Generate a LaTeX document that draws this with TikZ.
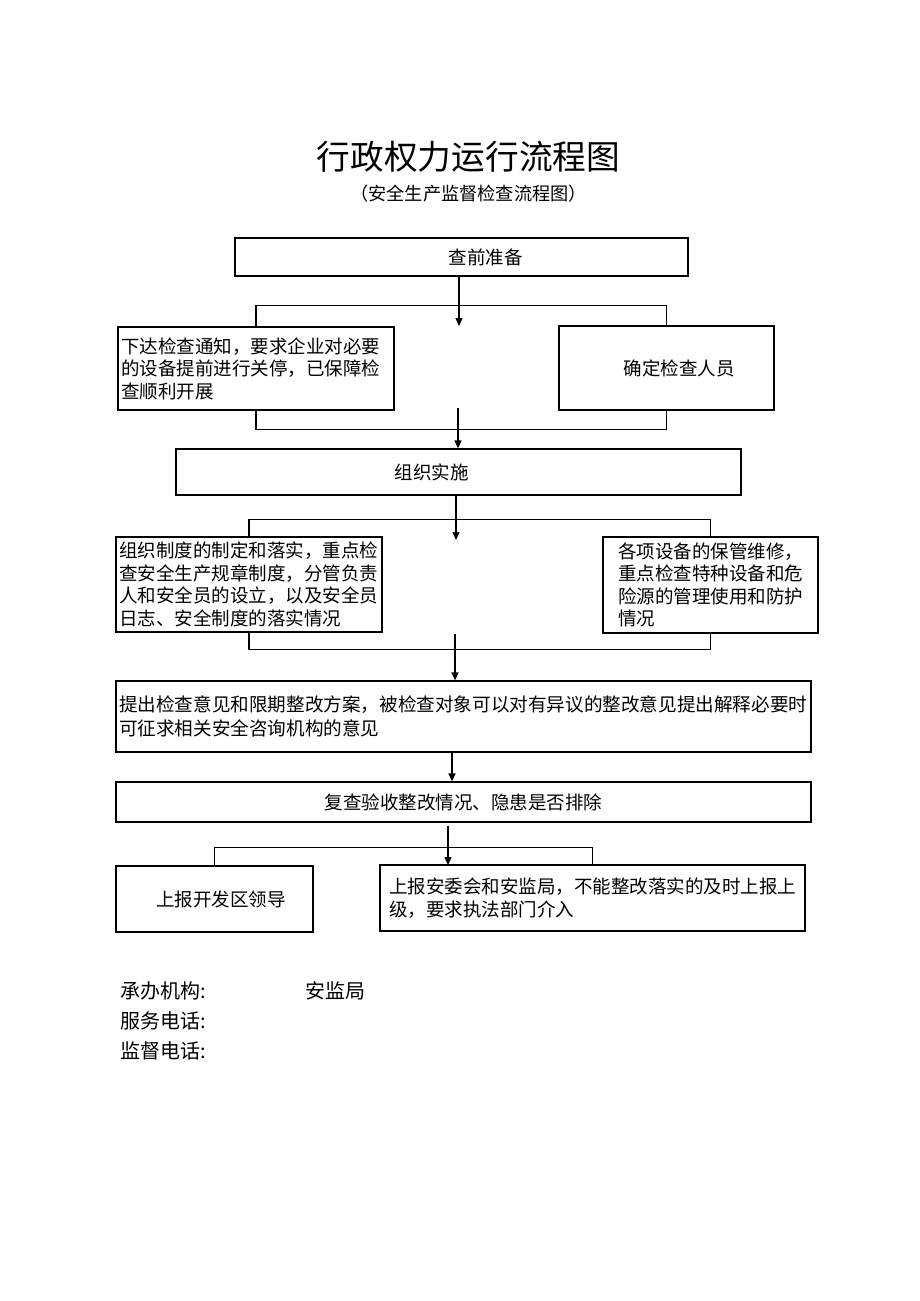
\documentclass[tikz,border=0pt]{standalone}
\usepackage{fontspec}
\setmainfont{Noto Sans CJK SC}
\usetikzlibrary{arrows.meta}

\newcommand\boxfont{\fontsize{18.5pt}{22.5pt}\selectfont}
\tikzset{
  box/.style={draw, rectangle, line width=1.3pt, inner sep=3pt, font=\boxfont},
  note/.style={box, align=left},
  link/.style={line width=1.3pt},
  flow/.style={line width=1.3pt, -{Triangle[length=8pt,width=7pt]}},
  foot/.style={anchor=west, inner sep=2pt, font=\fontsize{20pt}{24pt}\selectfont}
}

\begin{document}
\begin{tikzpicture}[x=1pt, y=-1pt]
  \useasboundingbox (0,0) rectangle (920,1301);

  % title
  \node[font=\fontsize{33.7pt}{38pt}\selectfont] (title) at (468.5,157) {行政权力运行流程图};
  \node[font=\fontsize{18.2pt}{20pt}\selectfont] (subtitle) at (468.5,194) {（安全生产监督检查流程图）};

  % preparation
  \node[box, minimum width=453, minimum height=38,
    label={[xshift=24, font=\boxfont]center:查前准备}] (prep) at (461.5,257) {};
  \node[note, text width=270, minimum height=83] (notice) at (256,368.5)
  {下达检查通知，要求企业对必要\\的设备提前进行关停，已保障检\\查顺利开展};
  \node[box, minimum width=215, minimum height=84,
    label={[xshift=12.5, font=\boxfont]center:确定检查人员}] (staff) at (666.5,368) {};
  \draw[link] (notice.north) -- ++(0,-21) -| (staff.north);
  \draw[link] (notice.south) -- ++(0,19) -| (staff.south);
  \coordinate (p1) at (459,326);
  \draw[flow] (prep.south -| p1) -- (p1);

  % implementation
  \node[box, minimum width=565, minimum height=46,
    label={[xshift=-27, font=\boxfont]center:组织实施}] (organize) at (458.5,472) {};
  \coordinate (p2) at (458,408);
  \draw[flow] (p2) -- (organize.north -| p2);
  \node[note, text width=260, minimum height=95] (system) at (249,584.5)
  {组织制度的制定和落实，重点检\\查安全生产规章制度，分管负责\\人和安全员的设立，以及安全员\\日志、安全制度的落实情况};
  \node[note, text width=185, minimum width=215, minimum height=96] (equip) at (710.5,585)
  {各项设备的保管维修，\\重点检查特种设备和危\\险源的管理使用和防护\\情况};
  \draw[link] (system.north) -- ++(0,-17) -| (equip.north);
  \draw[link] (system.south) -- ++(0,17) -| (equip.south);
  \coordinate (p3) at (456,540);
  \draw[flow] (organize.south -| p3) -- (p3);

  % rectification
  \node[note, text width=689, minimum height=71,
    font=\fontsize{18.6pt}{24pt}\selectfont] (opinion) at (463.5,716.5)
  {提出检查意见和限期整改方案，被检查对象可以对有异议的整改意见提出解释必要时\\可征求相关安全咨询机构的意见};
  \coordinate (p4) at (455,634);
  \draw[flow] (p4) -- (opinion.north -| p4);
  \node[box, minimum width=695, minimum height=40] (recheck) at (463.5,802)
  {复查验收整改情况、隐患是否排除};
  \coordinate (p5) at (452,752);
  \draw[flow] (opinion.south -| p5) -- (recheck.north -| p5);

  % reporting
  \node[box, minimum width=197, minimum height=66] (leader) at (214.5,899)
  {\hspace*{13pt}上报开发区领导};
  \node[note, text width=407, minimum width=425, minimum height=66] (report) at (592.5,898)
  {上报安委会和安监局，不能整改落实的及时上报上\\级，要求执法部门介入};
  \draw[link] (leader.north) -- ++(0,-18) -| (report.north);
  \coordinate (p6) at (448,865);
  \draw[flow] (recheck.south -| p6) ++(0,3) -- (p6);

  % footer
  \node[foot] (agency) at (118,991) {承办机构:};
  \node[foot] (agencyname) at (303,991) {安监局};
  \node[foot] (service) at (118,1021) {服务电话:};
  \node[foot] (supervise) at (118,1051) {监督电话:};
\end{tikzpicture}
\end{document}
